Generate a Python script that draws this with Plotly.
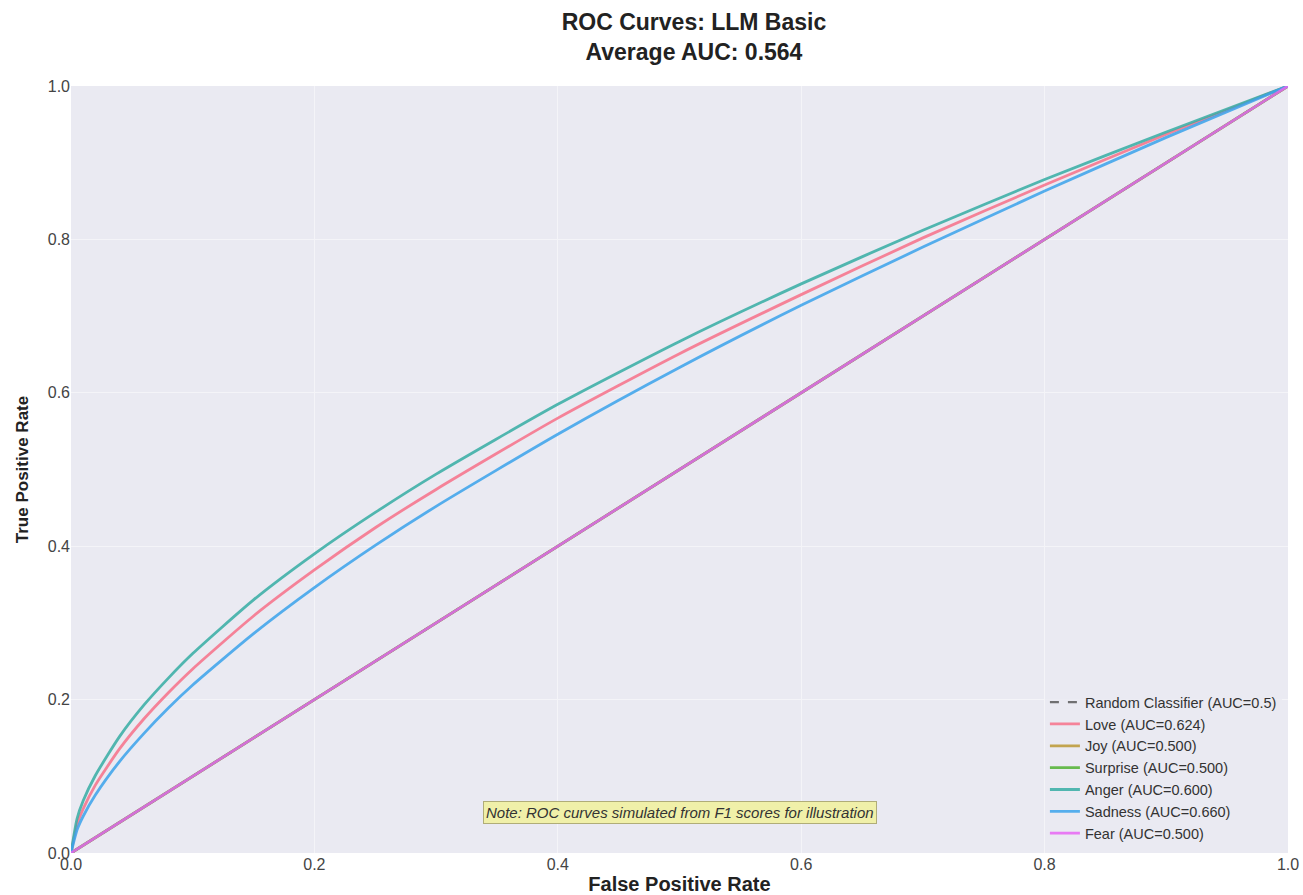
import plotly.graph_objects as go

# Data
fpr = [0.0, 0.005, 0.01, 0.02, 0.04, 0.06, 0.08, 0.1, 0.15, 0.2, 0.25, 0.3,
       0.4, 0.5, 0.6, 0.7, 0.8, 0.9, 1.0]
love_tpr = [0.0, 0.0375, 0.0575, 0.0885, 0.136, 0.175, 0.209, 0.240, 0.309, 0.369,
            0.424, 0.474, 0.567, 0.651, 0.728, 0.802, 0.871, 0.937, 1.0]
anger_tpr = [0.0, 0.045, 0.068, 0.101, 0.152, 0.193, 0.228, 0.260, 0.330, 0.390,
             0.444, 0.494, 0.585, 0.667, 0.742, 0.812, 0.878, 0.940, 1.0]
sadness_tpr = [0.0, 0.0303, 0.0479, 0.0756, 0.1195, 0.156, 0.189, 0.219, 0.286, 0.346,
               0.401, 0.452, 0.546, 0.633, 0.714, 0.790, 0.863, 0.933, 1.0]
diag_fpr = [0.0, 1.0]
diag_tpr = [0.0, 1.0]

labels = ["Love (AUC=0.624)", "Joy (AUC=0.500)", "Surprise (AUC=0.500)",
          "Anger (AUC=0.600)", "Sadness (AUC=0.660)", "Fear (AUC=0.500)"]
colors = ["#f77189", "#bb9832", "#50b131", "#36ada4", "#3ba3ec", "#e866f4"]
series = [(fpr, love_tpr), (diag_fpr, diag_tpr), (diag_fpr, diag_tpr),
          (fpr, anger_tpr), (fpr, sadness_tpr), (diag_fpr, diag_tpr)]
tick_vals = [0, 0.2, 0.4, 0.6, 0.8, 1.0]

FONT = "Liberation Sans, Arial, sans-serif"

fig = go.Figure()
fig.add_trace(go.Scatter(x=diag_fpr, y=diag_tpr, mode="lines",
                         name="Random Classifier (AUC=0.5)",
                         line=dict(color="rgba(60,60,60,0.7)", width=2.2, dash="dash")))
for (xs, ys), lab, col in zip(series, labels, colors):
    fig.add_trace(go.Scatter(x=xs, y=ys, mode="lines", name=lab,
                             line=dict(color=col, width=2.8, shape="spline", smoothing=0.6),
                             opacity=0.85))

fig.add_annotation(x=0.5, y=0.053, xref="x", yref="y",
                   text="<i>Note: ROC curves simulated from F1 scores for illustration</i>",
                   showarrow=False, font=dict(size=15, color="#333333", family=FONT),
                   bgcolor="#F0F0A9", bordercolor="#b0ad78", borderwidth=1, borderpad=2)

fig.update_layout(
    width=1303, height=895,
    margin=dict(l=71, r=15, t=86, b=42),
    paper_bgcolor="white", plot_bgcolor="#EAEAF2",
    font=dict(family=FONT, color="#333333"),
    title=dict(text="<b>ROC Curves: LLM Basic<br>Average AUC: 0.564</b>",
               x=0.5326, xanchor="center", y=0.966, yanchor="top",
               font=dict(size=23, color="#222222")),
    xaxis=dict(range=[0, 1], tickvals=tick_vals, tickformat=".1f", automargin=False,
               showgrid=True, gridcolor="#F4F4F8", gridwidth=1, zeroline=False,
               tickfont=dict(size=16, color="#444444"), ticks="",
               title=dict(text="<b>False Positive Rate</b>", font=dict(size=20, color="#222222"),
                          standoff=8)),
    yaxis=dict(range=[0, 1], tickvals=tick_vals, tickformat=".1f", automargin=False,
               showgrid=True, gridcolor="#F4F4F8", gridwidth=1, zeroline=False,
               tickfont=dict(size=16, color="#444444"), ticks="",
               title=dict(text="<b>True Positive Rate</b>", font=dict(size=17, color="#222222"),
                          standoff=14)),
    legend=dict(x=0.995, y=0.005, xanchor="right", yanchor="bottom",
                bgcolor="rgba(234,234,242,0.85)", font=dict(size=14.5, color="#333333"),
                tracegroupgap=0, itemwidth=30),
    showlegend=True,
)

fig.write_html("out.html")
